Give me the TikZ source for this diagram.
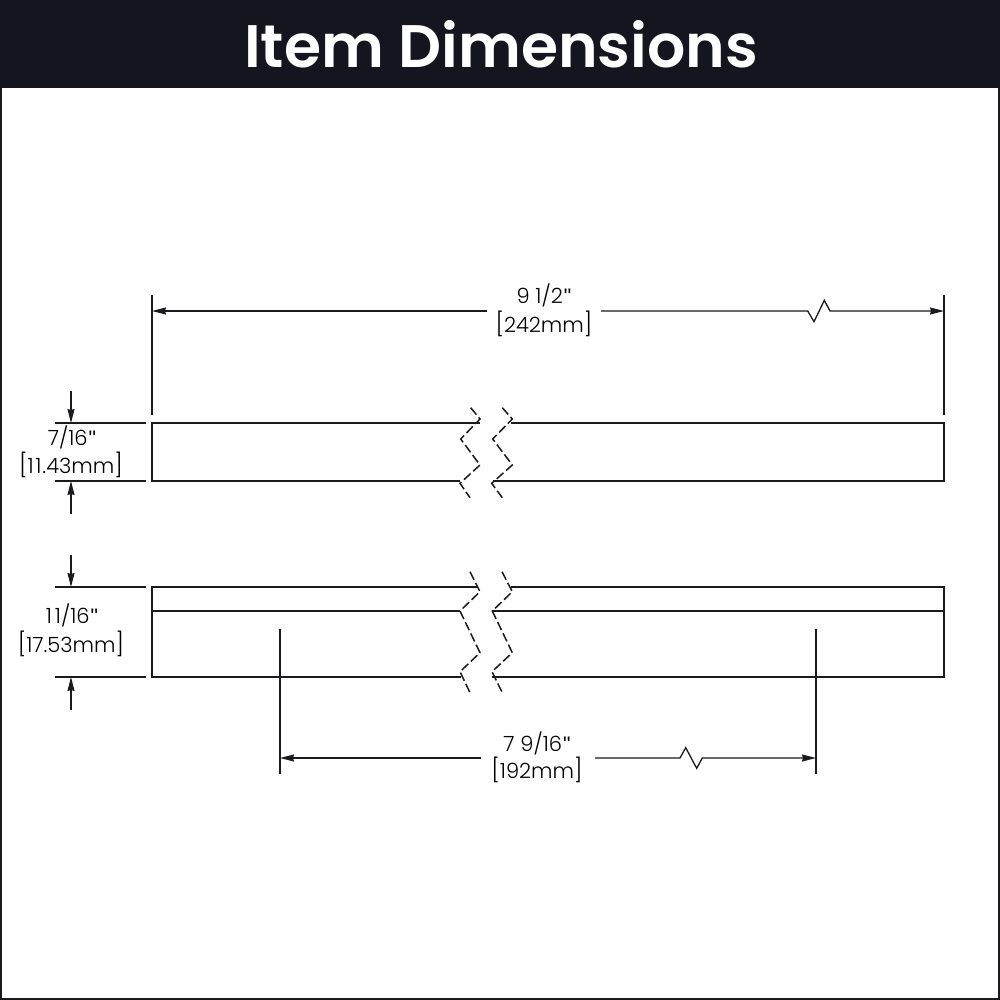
\documentclass[tikz,border=0pt]{standalone}
\usepackage{fontspec}
\setmainfont{Poppins Light}
\newfontfamily\titlefont{Poppins SemiBold}
\newfontfamily\tickfont{Liberation Sans}
\usetikzlibrary{arrows.meta}
\definecolor{band}{HTML}{14151F}
\definecolor{ink}{HTML}{1A1A1F}
\newcommand{\lb}{{\fontsize{23}{22}\selectfont\kern1pt[}}
\newcommand{\rb}{{\fontsize{23}{22}\selectfont]\kern1pt}}
\newcommand{\ticks}{{\tickfont\kern1pt"}}
\tikzset{
  partline/.style={draw=ink,line width=1.5pt},
  breakline/.style={draw=ink,line width=1.5pt,dash pattern=on 9pt off 3.5pt},
  extline/.style={draw=ink,line width=1.3pt},
  dimarrow/.style={draw=ink,line width=1.3pt,-{Stealth[length=14pt,width=7pt,inset=1pt]}},
  dimtext/.style={text=black,font=\fontsize{21}{24}\selectfont,inner sep=0pt,anchor=center}
}
\begin{document}
\begin{tikzpicture}[x=1pt,y=-1pt]
\useasboundingbox (0,0) rectangle (1000,1000);
\fill[white] (0,0) rectangle (1000,1000);
\draw[draw=ink,line width=1.5pt] (1,0) -- (1,999) -- (999,999) -- (999,0);
\fill[band] (0,0) rectangle (1000,88);
\node[text=white,inner sep=0pt,font=\titlefont\fontsize{60}{70}\selectfont] (title) at (501,44) {Item Dimensions};

% upper bar
\draw[partline] (480,423) -- (152,423) -- (152,481) -- (460,481);
\draw[partline] (511,423) -- (944,423) -- (944,481) -- (493,481);
\draw[breakline] (470.7,407.7) -- (480,419) -- (460.7,439) -- (480,465) -- (460,483.3) -- (470,497.7);
\draw[breakline] (502.3,407.7) -- (512.3,419) -- (492.7,439) -- (512.3,465) -- (491.7,483.3) -- (502.3,497.7);

% lower bar
\draw[partline] (477,587) -- (152,587) -- (152,677) -- (461,677);
\draw[partline] (152,611) -- (460,611);
\draw[partline] (511,587) -- (944,587) -- (944,677) -- (492,677);
\draw[partline] (492,611) -- (944,611);
\draw[breakline] (470,571.7) -- (480,591.7) -- (460,611) -- (480,652.7) -- (460,671.7) -- (470,692.7);
\draw[breakline] (502,571.7) -- (512.3,591.7) -- (492.3,611) -- (512.3,652.7) -- (492,671.7) -- (502.3,692.7);

% overall length
\coordinate (lenA) at (152,311);
\coordinate (lenB) at (944,311);
\draw[extline] (152,295) -- (152,415);
\draw[extline] (944,295) -- (944,415);
\node[dimtext] (lenT1) at (544,295) {9 1/2\ticks};
\node[dimtext] (lenT2) at (544,324) {\lb 242mm\rb};
\coordinate (lenL) at (487,311);
\coordinate (lenR) at (601,311);
\draw[dimarrow] (lenL) -- (lenA);
\draw[dimarrow] (lenR) -- (807.7,311) -- (814,321.7) -- (824.3,300.3) -- (830,311) -- (lenB);

% centre to centre
\coordinate (ccA) at (280,758);
\coordinate (ccB) at (816,758);
\draw[extline] (280,629) -- (280,774);
\draw[extline] (816,629) -- (816,774);
\node[dimtext] (ccT1) at (537,743) {7 9/16\ticks};
\node[dimtext] (ccT2) at (537,770) {\lb 192mm\rb};
\coordinate (ccL) at (481,758);
\coordinate (ccR) at (595,758);
\draw[dimarrow] (ccL) -- (ccA);
\draw[dimarrow] (ccR) -- (680,758) -- (685.7,747.7) -- (696.7,768.3) -- (702.3,758) -- (ccB);

% upper height
\draw[extline] (55,423) -- (146,423);
\draw[extline] (55,481) -- (146,481);
\coordinate (h1a) at (71,391);
\coordinate (h1b) at (71,423);
\coordinate (h1c) at (71,514);
\coordinate (h1d) at (71,481);
\draw[dimarrow] (h1a) -- (h1b);
\draw[dimarrow] (h1c) -- (h1d);
\node[dimtext] (h1T1) at (72,437) {7/16\ticks};
\node[dimtext] (h1T2) at (71,465) {\lb 1\kern1.5pt1\kern1pt.43mm\rb};

% lower height
\draw[extline] (55,587) -- (146,587);
\draw[extline] (55,677) -- (146,677);
\coordinate (h2a) at (71,555);
\coordinate (h2b) at (71,587);
\coordinate (h2c) at (71,710);
\coordinate (h2d) at (71,677);
\draw[dimarrow] (h2a) -- (h2b);
\draw[dimarrow] (h2c) -- (h2d);
\node[dimtext] (h2T1) at (72,615) {1\kern3pt1/16\ticks};
\node[dimtext] (h2T2) at (71,644) {\lb 17.53mm\rb};
\end{tikzpicture}
\end{document}
